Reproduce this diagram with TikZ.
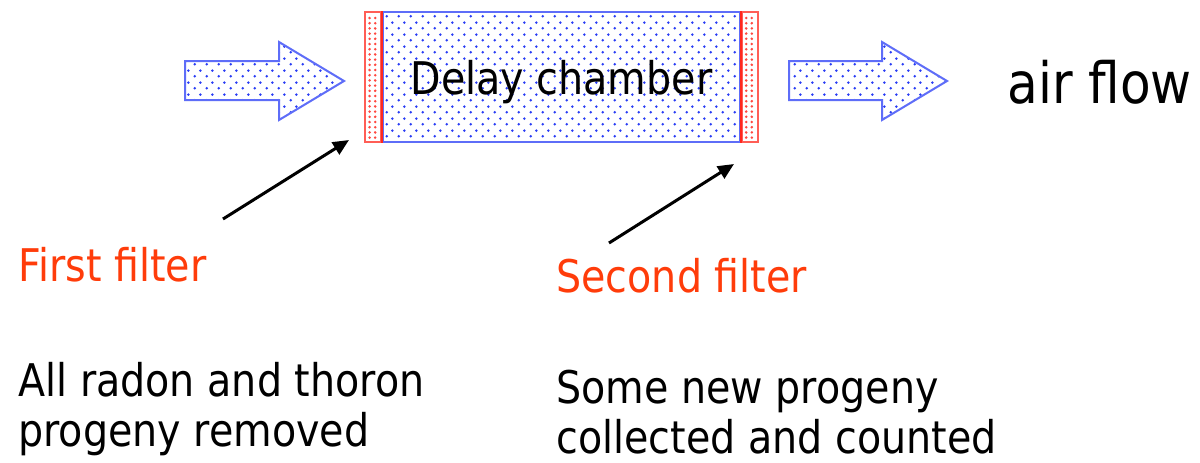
\documentclass[tikz,border=0pt]{standalone}
\usepackage{fontspec}
\setmainfont{DejaVu Sans}[FakeStretch=0.88]
\usetikzlibrary{arrows.meta,patterns,positioning}

\definecolor{flowblue}{RGB}{40,60,245}
\definecolor{filterred}{RGB}{255,40,30}
\definecolor{labelred}{RGB}{255,60,10}

% staggered dots for the air and the chamber
\pgfdeclarepatternformonly{bluedots}{\pgfpointorigin}{\pgfqpoint{6pt}{6pt}}{\pgfqpoint{6pt}{6pt}}{
  \pgfpathcircle{\pgfqpoint{1.5pt}{1.5pt}}{0.75pt}
  \pgfpathcircle{\pgfqpoint{4.5pt}{4.5pt}}{0.75pt}
  \pgfusepath{fill}}

\tikzset{
  flow/.style={draw=flowblue!75, line width=1pt, pattern=bluedots, pattern color=flowblue},
  chamber/.style={flow, minimum width=178.5pt, minimum height=65pt, inner sep=0pt, text depth=0pt,
    font=\fontsize{22.5}{25}\selectfont},
  filterband/.style={draw=filterred!75, line width=0.8pt, fill=white,
    minimum width=8pt, minimum height=65pt, inner sep=0pt},
  pointer/.style={line width=1.5pt, -{Triangle[length=8pt,width=7pt]}},
  note/.style={inner sep=0pt, anchor=base west, font=\fontsize{22.5}{25}\selectfont},
  filtername/.style={note, text=labelred},
}

\begin{document}
\begin{tikzpicture}[x=0.5pt,y=-0.5pt]
\fill[white] (0,0) rectangle (1200,462);
\useasboundingbox (0,0) rectangle (1200,462);

% chamber with a filter at each end
\node[chamber] (chamber) at (561.5,77) {Delay chamber};
\node[filterband, anchor=east] (infilter) at (chamber.west) {};
\node[filterband, anchor=west] (outfilter) at (chamber.east) {};
\foreach \f in {infilter,outfilter}
  \foreach \k in {1,...,24}
    \fill[filterred!85] ([shift={(2.6pt,\k*2.6pt)}]\f.south west) circle (0.7pt)
                        ([shift={(5.4pt,\k*2.6pt)}]\f.south west) circle (0.7pt);
\draw[filterred, line width=1.2pt] (infilter.north east) -- (infilter.south east);
\draw[filterred, line width=1.2pt] (outfilter.north west) -- (outfilter.south west);

% air in and out
\draw[flow] (185,61) -- (279,61) -- (279,42) -- (344,81) -- (279,120) -- (279,100) -- (185,100) -- cycle;
\draw[flow] (789,61) -- (882,61) -- (882,42) -- (947,81) -- (882,120) -- (882,100) -- (789,100) -- cycle;
\node[note, font=\fontsize{28.5}{30}\selectfont] (air) at (1007,103) {air flow};

% labels (base is the last line)
\node[filtername] (first) at (18,281) {First filter};
\node[filtername] (second) at (556,292) {Second filter};
\node[note, align=left] (removed) at (18,446) {All radon and thoron\\progeny removed};
\node[note, align=left] (counted) at (556,453) {Some new progeny\\collected and counted};

\coordinate (from1) at (223,219);
\coordinate (to1) at (349,140);
\coordinate (from2) at (609,243);
\coordinate (to2) at (734,164);
\draw[pointer] (from1) -- (to1);
\draw[pointer] (from2) -- (to2);
\end{tikzpicture}
\end{document}
